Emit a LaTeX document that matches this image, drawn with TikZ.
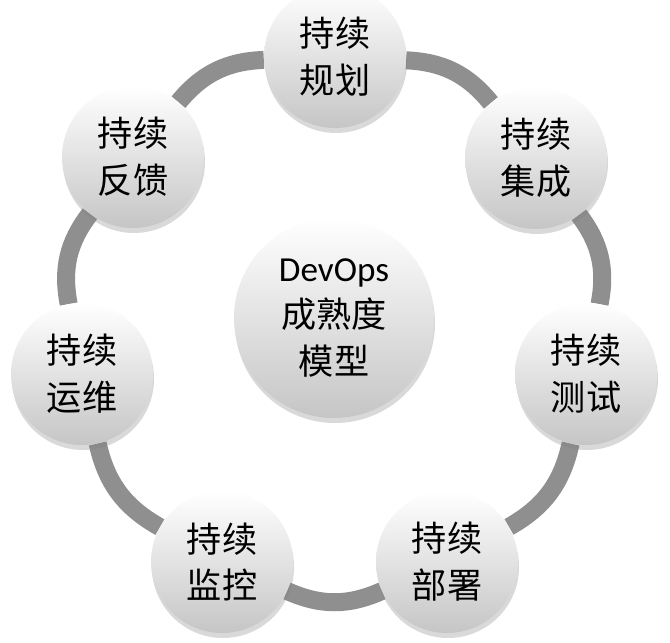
\documentclass[tikz,border=0pt]{standalone}
\usepackage{fontspec}
\setmainfont{Carlito}
\newfontfamily\cjk{Noto Sans CJK SC}
\usetikzlibrary{shadows,backgrounds}

\tikzset{
  stage/.style={circle, inner sep=0pt, minimum size=4.26cm, align=center,
    top color=white, bottom color=gray!45,
    drop shadow={opacity=0.3, shadow xshift=0.3mm, shadow yshift=-1.5mm},
    font=\cjk\fontsize{30}{40}\selectfont},
  hub/.style={stage, minimum size=6cm, font=\fontsize{30}{40}\selectfont},
  ring/.style={line width=0.54cm, gray!88}
}

\begin{document}
\begin{tikzpicture}[x=0.03cm, y=0.03cm]
  \useasboundingbox (0,0) rectangle (670,642);

  \node[stage] (plan) at (335,585) {持续\\规划};
  \node[stage] (integ) at (536,484) {持续\\集成};
  \node[stage] (test) at (586,268) {持续\\测试};
  \node[stage] (deploy) at (447,80) {持续\\部署};
  \node[stage] (monitor) at (222,80) {持续\\监控};
  \node[stage] (ops) at (82,268) {持续\\运维};
  \node[stage] (feedback) at (133,485) {持续\\反馈};

  \node[hub] (model) at (334,324) {DevOps\\\cjk 成熟度\\\cjk 模型};

  \begin{scope}[on background layer]
    \foreach \a/\b in {plan/integ, integ/test, test/deploy, deploy/monitor,
                       monitor/ops, ops/feedback, feedback/plan}
      \draw[ring] (\a) to[bend left=24] (\b);
  \end{scope}
\end{tikzpicture}
\end{document}
